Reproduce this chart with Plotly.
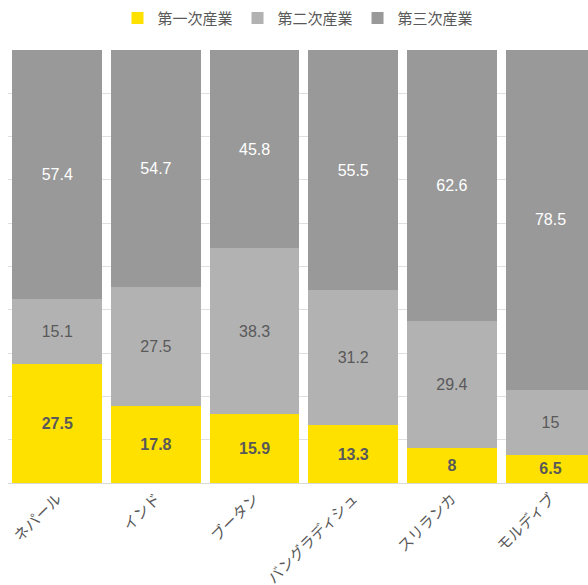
import plotly.graph_objects as go

countries = ["ネパール", "インド", "ブータン", "バングラディシュ", "スリランカ", "モルディブ"]
primary = [27.5, 17.8, 15.9, 13.3, 8, 6.5]
secondary = [15.1, 27.5, 38.3, 31.2, 29.4, 15]
tertiary = [57.4, 54.7, 45.8, 55.5, 62.6, 78.5]

series_names = ["第一次産業", "第二次産業", "第三次産業"]
colors = ["#FFE100", "#B2B2B2", "#999999"]
text_colors = ["#595959", "#595959", "#FFFFFF"]
text_weights = ["bold", "normal", "normal"]

FONT = "Liberation Sans, Arial, Noto Sans CJK JP, sans-serif"

fig = go.Figure()
for name, vals, col, tcol, tw in zip(series_names, [primary, secondary, tertiary],
                                     colors, text_colors, text_weights):
    fig.add_trace(go.Bar(
        x=countries, y=vals, name=name,
        marker=dict(color=col, line=dict(width=0)),
        text=[f"{v:g}" for v in vals],
        textposition="inside", insidetextanchor="middle",
        textangle=0,
        textfont=dict(color=tcol, size=16, family=FONT, weight=tw),
        hoverinfo="skip",
    ))

fig.update_layout(
    barmode="stack",
    bargap=0.09,
    width=588, height=585,
    margin=dict(l=8, r=0, t=50, b=102),
    paper_bgcolor="white", plot_bgcolor="white",
    font=dict(family=FONT, color="#595959", size=13),
    uniformtext=dict(minsize=16, mode="show"),
    legend=dict(orientation="h", x=0.5, xanchor="center", y=0.997, yanchor="top",
                yref="container", font=dict(size=15, color="#595959"),
                itemwidth=30, traceorder="normal"),
    xaxis=dict(range=[-0.5, 5.38], tickangle=-45, showgrid=False, automargin=False,
               showline=True, linecolor="#D9D9D9", linewidth=1,
               ticks="", tickfont=dict(size=15, color="#595959")),
    yaxis=dict(range=[0, 100], dtick=10, showgrid=True, gridcolor="#E0E0E0",
               gridwidth=1, showticklabels=False, zeroline=False, ticks="",
               automargin=False),
)

fig.write_html("out.html")
